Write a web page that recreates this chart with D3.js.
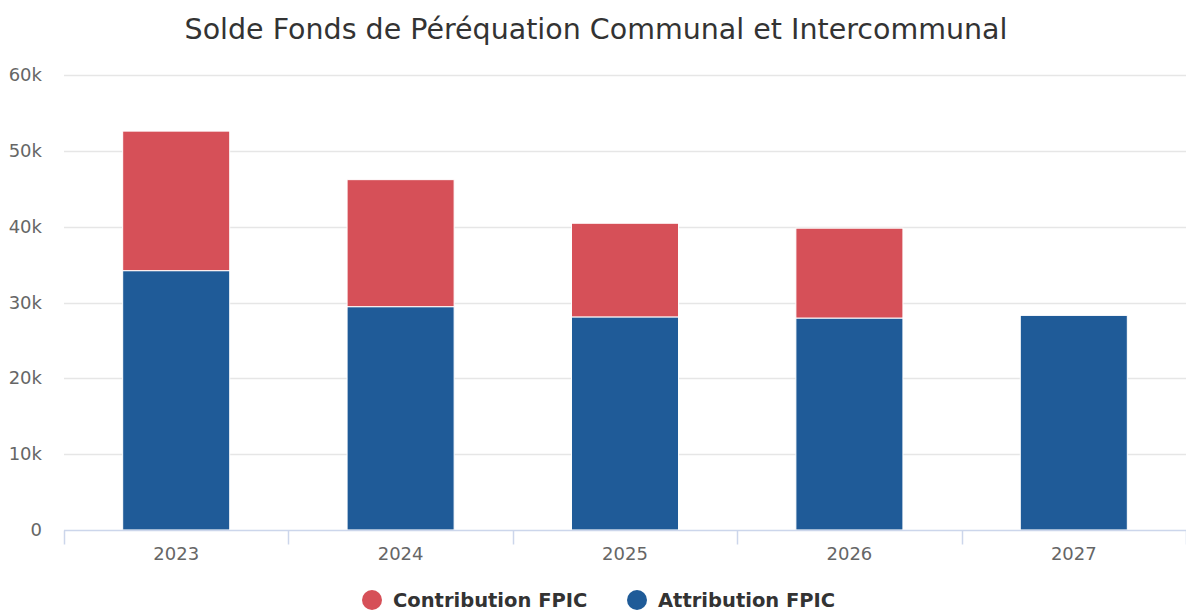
<!DOCTYPE html>
<html>
<head>
<meta charset="utf-8">
<script src="https://cdnjs.cloudflare.com/ajax/libs/d3/7.9.0/d3.min.js"></script>
<style>
  html, body { margin: 0; padding: 0; background: #fff; }
  svg { display: block; font-family: "DejaVu Sans", sans-serif; }
</style>
</head>
<body>
<div id="chart"></div>
<script>
// Data
const years = ['2023', '2024', '2025', '2026', '2027'];
const attribution = [34200, 29450, 28100, 27950, 28300];   // Attribution FPIC (bottom)
const contribution = [18400, 16750, 12350, 11850, 0];     // Contribution FPIC (top)
const yTicks = [0, 10000, 20000, 30000, 40000, 50000, 60000];
const seriesNames = ['Contribution FPIC', 'Attribution FPIC'];
const seriesColors = ['#d65058', '#1f5b98'];

const W = 1186, H = 612;
const margin = { top: 75, right: 0, bottom: 82, left: 64 };

const svg = d3.select('#chart').append('svg')
  .attr('width', W)
  .attr('height', H);

// title
svg.append('text')
  .attr('x', 596)
  .attr('y', 39)
  .attr('text-anchor', 'middle')
  .attr('fill', '#333')
  .style('font-size', '28.5px')
  .text('Solde Fonds de Péréquation Communal et Intercommunal');

const x = d3.scaleBand()
  .domain(years)
  .range([margin.left, W - margin.right])
  .paddingInner(0.523)
  .paddingOuter(0.2615);

const y = d3.scaleLinear()
  .domain([0, 60000])
  .range([H - margin.bottom, margin.top]);

// gridlines
svg.append('g')
  .selectAll('line')
  .data(yTicks.slice(1))
  .join('line')
  .attr('x1', margin.left)
  .attr('x2', W - margin.right)
  .attr('y1', d => Math.round(y(d)) + 0.5)
  .attr('y2', d => Math.round(y(d)) + 0.5)
  .attr('stroke', '#e6e6e6')
  .attr('stroke-width', 1.5);

// y labels
svg.append('g')
  .selectAll('text')
  .data(yTicks)
  .join('text')
  .attr('x', 42)
  .attr('y', d => y(d) + 6)
  .attr('text-anchor', 'end')
  .attr('fill', '#666')
  .style('font-size', '18px')
  .text(d => d === 0 ? '0' : (d / 1000) + 'k');

// stacked bars
const rows = years.map((yr, i) => ({ year: yr, att: attribution[i], con: contribution[i] }));
const stack = d3.stack().keys(['att', 'con'])(rows);
const colorOf = { att: seriesColors[1], con: seriesColors[0] };

svg.append('g')
  .selectAll('g')
  .data(stack)
  .join('g')
  .attr('fill', s => colorOf[s.key])
  .selectAll('rect')
  .data(s => s.filter(d => d[1] > d[0]))
  .join('rect')
  .attr('x', d => x(d.data.year))
  .attr('width', x.bandwidth())
  .attr('y', d => y(d[1]))
  .attr('height', d => y(d[0]) - y(d[1]))
  .attr('stroke', '#fff')
  .attr('stroke-width', 1);

// x axis
const baseY = Math.round(y(0)) + 0.5;
svg.append('line')
  .attr('x1', margin.left)
  .attr('x2', W - margin.right)
  .attr('y1', baseY)
  .attr('y2', baseY)
  .attr('stroke', '#ccd6eb')
  .attr('stroke-width', 1.5);

const step = x.step();
const axisStart = x(years[0]) - step * x.paddingOuter();
svg.append('g')
  .selectAll('line')
  .data(d3.range(years.length + 1))
  .join('line')
  .attr('x1', i => Math.round(axisStart + i * step) + 0.5)
  .attr('x2', i => Math.round(axisStart + i * step) + 0.5)
  .attr('y1', baseY)
  .attr('y2', baseY + 14)
  .attr('stroke', '#ccd6eb')
  .attr('stroke-width', 1.5);

svg.append('g')
  .selectAll('text')
  .data(years)
  .join('text')
  .attr('x', d => x(d) + x.bandwidth() / 2)
  .attr('y', baseY + 29)
  .attr('text-anchor', 'middle')
  .attr('fill', '#666')
  .style('font-size', '18px')
  .text(d => d);

// legend (sits at the very bottom edge, as in the reference)
const legend = svg.append('g').attr('transform', 'translate(0,600)');
const legendX = [372, 637];
seriesNames.forEach((name, i) => {
  legend.append('circle')
    .attr('cx', legendX[i])
    .attr('cy', 0)
    .attr('r', 10)
    .attr('fill', seriesColors[i]);
  legend.append('text')
    .attr('x', legendX[i] + 21)
    .attr('y', 7)
    .attr('fill', '#333')
    .style('font-size', '19.5px')
    .style('font-weight', 'bold')
    .text(name);
});
</script>
</body>
</html>
